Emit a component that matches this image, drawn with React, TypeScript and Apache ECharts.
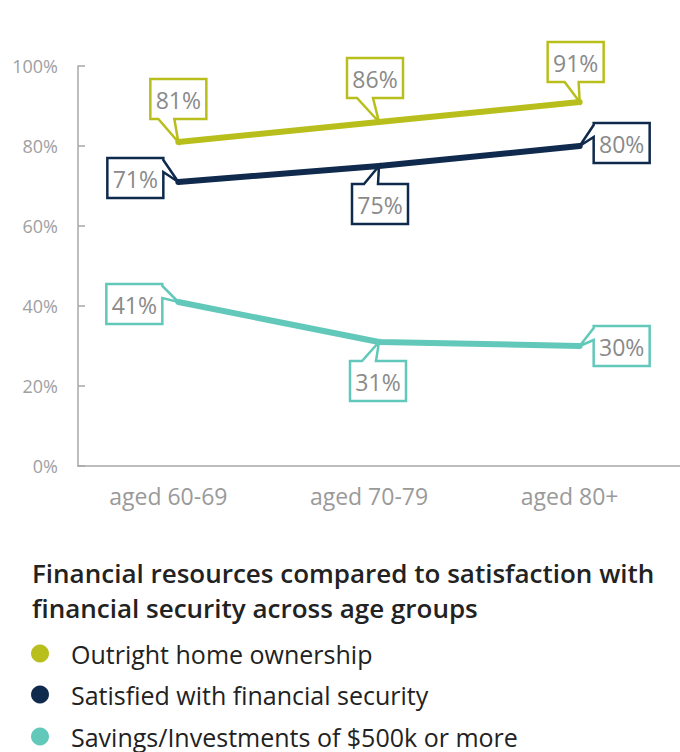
import React, { useEffect, useRef } from "react";
import * as echarts from "echarts";

const categories = ["aged 60-69", "aged 70-79", "aged 80+"];
const homeOwnership = [81, 86, 91];
const satisfied = [71, 75, 80];
const savings = [41, 31, 30];
const yMin = 0;
const yMax = 100;
const yInterval = 20;

const seriesNames = [
  "Outright home ownership",
  "Satisfied with financial security",
  "Savings/Investments of $500k or more",
];
const colors = ["#b8bf1c", "#0f2a4d", "#62c8ba"];
const legendTops = [641, 682, 724];

// callout layout: box centre offset from point, tail side, tail base (relative along edge)
type Callout = { dx: number; dy: number; side: "top" | "bottom" | "left" | "right"; a: number; b: number };
const BOX_W = 56;
const BOX_H = 40;
const calloutLayouts: Callout[][] = [
  [
    { dx: 0, dy: -43, side: "bottom", a: 8, b: 24 },
    { dx: -4, dy: -44, side: "bottom", a: 10, b: 26 },
    { dx: -4, dy: -40, side: "bottom", a: 17, b: 31 },
  ],
  [
    { dx: -43, dy: -4, side: "right", a: 2, b: 14 },
    { dx: 1, dy: 38, side: "top", a: 12, b: 26 },
    { dx: 42, dy: -3, side: "left", a: 2, b: 14 },
  ],
  [
    { dx: -44, dy: 2, side: "right", a: 2, b: 14 },
    { dx: -1, dy: 39, side: "top", a: 12, b: 26 },
    { dx: 42, dy: 0, side: "left", a: 2, b: 14 },
  ],
];

function bubblePoints(cx: number, cy: number, tip: number[], c: Callout) {
  const l = cx - BOX_W / 2, r = cx + BOX_W / 2, t = cy - BOX_H / 2, btm = cy + BOX_H / 2;
  const pts: number[][] = [];
  pts.push([l, t]);
  if (c.side === "top") {
    pts.push([l + c.a, t], tip, [l + c.b, t]);
  }
  pts.push([r, t]);
  if (c.side === "right") {
    pts.push([r, t + c.a], tip, [r, t + c.b]);
  }
  pts.push([r, btm]);
  if (c.side === "bottom") {
    pts.push([l + c.b, btm], tip, [l + c.a, btm]);
  }
  pts.push([l, btm]);
  if (c.side === "left") {
    pts.push([l, t + c.b], tip, [l, t + c.a]);
  }
  return pts;
}

export default function App() {
  const ref = useRef<HTMLDivElement>(null);
  useEffect(() => {
    document.body.style.margin = "0";
    const chart = echarts.init(ref.current!, undefined, { renderer: "svg" });
    const allData = [homeOwnership, satisfied, savings];
    const font = "'Open Sans', sans-serif";

    const lineSeries = allData.map((d, i) => ({
      name: seriesNames[i],
      type: "line",
      data: d,
      symbol: "none",
      z: 2,
      lineStyle: { color: colors[i], width: 6, cap: "round", join: "round" },
      itemStyle: { color: colors[i] },
    }));

    const calloutSeries = allData.map((d, si) => ({
      name: "callout-" + si,
      type: "custom",
      coordinateSystem: "cartesian2d",
      clip: false,
      z: 5,
      data: d.map((v, i) => [i, v]),
      encode: { x: 0, y: 1 },
      renderItem: (params: any, api: any) => {
        const idx = params.dataIndex;
        const v = api.value(1);
        const p = api.coord([api.value(0), v]);
        const c = calloutLayouts[si][idx];
        const cx = p[0] + c.dx;
        const cy = p[1] + c.dy;
        return {
          type: "group",
          children: [
            {
              type: "polygon",
              shape: { points: bubblePoints(cx, cy, p, c) },
              style: { fill: "#ffffff", stroke: colors[si], lineWidth: 2.5, lineJoin: "miter" },
            },
            {
              type: "text",
              x: cx,
              y: cy + 1,
              style: {
                text: v + "%",
                align: "center",
                verticalAlign: "middle",
                fill: "#8a8a8a",
                fontSize: 23,
                fontFamily: font,
              },
            },
          ],
        };
      },
    }));

    const legends = seriesNames.map((name, i) => ({
      data: [name],
      orient: "vertical",
      left: 31,
      top: legendTops[i],
      padding: 0,
      icon: "circle",
      itemWidth: 18,
      itemHeight: 18,
      selectedMode: false,
      textStyle: {
        fontFamily: font,
        fontSize: 25,
        color: "#222222",
        padding: [0, 0, 0, 17],
        lineHeight: 22,
      },
    }));

    chart.setOption({
      animation: false,
      backgroundColor: "#ffffff",
      title: {
        text: "Financial resources compared to satisfaction with\nfinancial security across age groups",
        left: 27,
        top: 550,
        textStyle: {
          fontFamily: font,
          fontSize: 26,
          fontWeight: 600,
          color: "#222222",
          lineHeight: 35,
        },
      },
      legend: legends,
      grid: { left: 78, top: 66, width: 606, height: 400, containLabel: false },
      xAxis: {
        type: "category",
        data: categories,
        boundaryGap: true,
        axisLine: { lineStyle: { color: "#a8a8a8", width: 1.5 } },
        axisTick: { alignWithLabel: true, inside: true, length: 7, lineStyle: { color: "#a8a8a8", width: 1.5 } },
        axisLabel: {
          color: "#9a9a9a",
          fontFamily: font,
          fontSize: 23,
          margin: 18,
          padding: [0, 20, 0, 0],
        },
      },
      yAxis: {
        type: "value",
        min: yMin,
        max: yMax,
        interval: yInterval,
        axisLine: { show: true, lineStyle: { color: "#a8a8a8", width: 1.5 } },
        axisTick: { show: true, inside: true, length: 7, lineStyle: { color: "#a8a8a8", width: 1.5 } },
        splitLine: { show: false },
        axisLabel: {
          color: "#a0a0a0",
          fontFamily: font,
          fontSize: 18,
          margin: 20,
          formatter: "{value}%",
        },
      },
      series: [...lineSeries, ...calloutSeries],
    });
    return () => chart.dispose();
  }, []);
  return (
    <div
      ref={ref}
      style={{ position: "absolute", left: 0, top: 0, width: 680, height: 752 }}
    />
  );
}
